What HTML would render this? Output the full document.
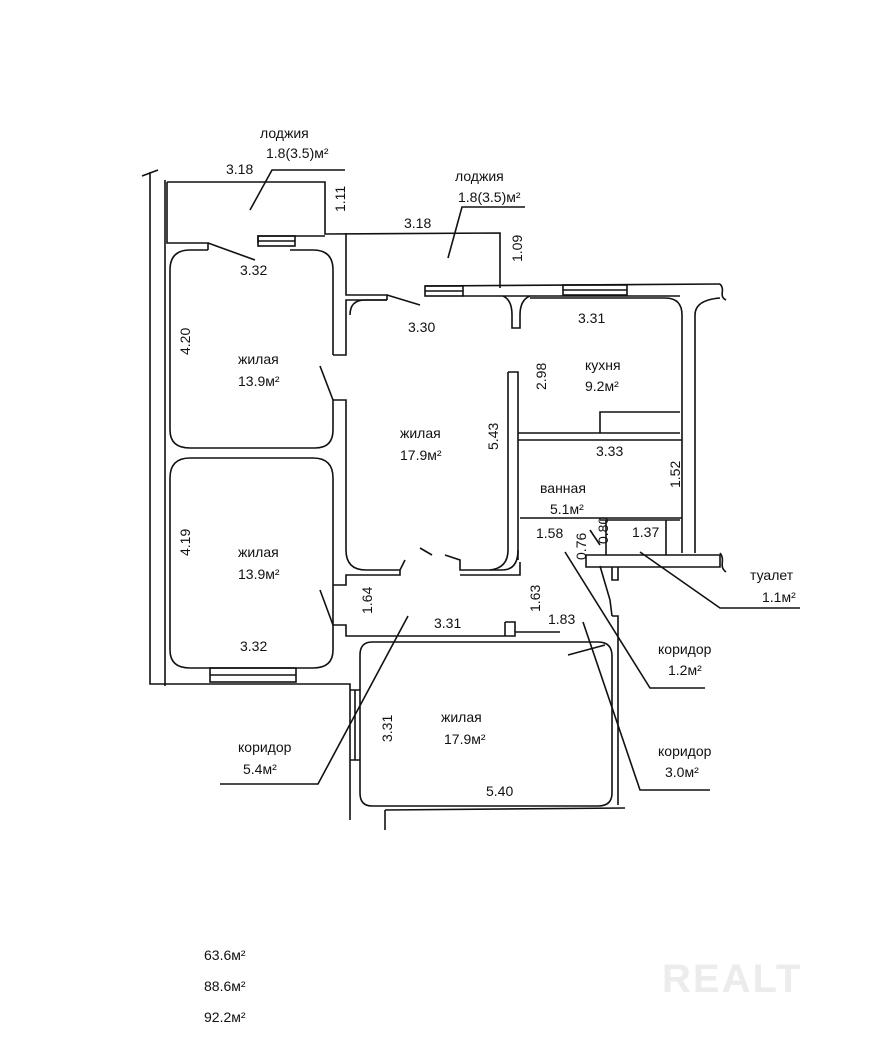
<!DOCTYPE html>
<html><head><meta charset="utf-8"><style>
html,body{margin:0;padding:0;background:#fff;}
svg{display:block}
text{font-family:"Liberation Sans",sans-serif;font-size:14px;fill:#111;}
</style></head><body>
<svg width="873" height="1044" viewBox="0 0 873 1044" xmlns="http://www.w3.org/2000/svg">
<g fill="none" stroke="#111" stroke-width="1.6">
<path d="M150 172 L150 684 L350 684 L350 820"/>
<path d="M142 176 L158 170"/>
<path d="M165 180 L165 686"/>
<path d="M167 182 L325 182 L325 234 L500 233 L500 288"/>
<path d="M167 182 L167 243 L208 243 L208 250"/>
<path d="M258 243 L258 236 L325 236"/>
<rect x="258" y="236" width="37" height="10"/>
<path d="M258 241 L295 241"/>
<path d="M346 233 L346 295 L387 295 L387 300"/>
<path d="M425 286 L720 284"/>
<rect x="425" y="286" width="38" height="10"/>
<path d="M425 291 L463 291"/>
<rect x="563" y="285" width="64" height="10"/>
<path d="M563 290 L627 290"/>
<path d="M463 296 L680 296"/>
<path d="M720 284 C726 290 718 296 726 300"/>
<path d="M720 553 C726 560 718 566 726 572"/>
<path d="M208 250 L190 250 Q170 250 170 270 L170 430 Q170 448 190 448 L315 448 Q333 448 333 430 L333 400"/>
<path d="M333 355 L333 270 Q333 250 313 250 L290 250"/>
<path d="M320 366 L333 400"/>
<path d="M333 355 L346 355 L346 300 Q346 300 350 300 L387 300"/>
<path d="M333 400 L346 400 L346 550 Q346 570 366 570 L400 570 L405 560"/>
<path d="M420 548 L432 555"/>
<path d="M445 555 L460 560 L460 570 L502 570 Q518 570 518 550"/>
<path d="M387 300 L365 300 Q350 300 350 315"/>
<path d="M400 570 L400 575 L346 575 L346 585 L333 585"/>
<path d="M460 575 L520 575 L520 562"/>
<path d="M508 372 L518 372 L518 560"/>
<path d="M508 372 L508 550 Q508 568 490 570"/>
<path d="M503 296 Q512 300 512 315 L512 328 L520 328 L520 315 Q520 300 530 296"/>
<path d="M530 298 L665 298 Q682 298 682 315 L682 553"/>
<path d="M695 553 L695 315 Q695 300 720 298"/>
<path d="M518 433 L680 433"/>
<path d="M518 440 L682 440"/>
<path d="M600 433 L600 412 L680 412"/>
<path d="M520 518 L682 518"/>
<path d="M600 520 L680 520"/>
<path d="M666 520 L666 555"/>
<path d="M606 520 L606 555"/>
<path d="M586 555 L720 555 L720 567 L586 567 Z"/>
<path d="M612 567 L612 580 L618 580 L618 567"/>
<path d="M333 585 L333 625 L346 625 L346 636 L515 636 L515 632 L560 632"/>
<path d="M505 622 L515 622 L515 632"/>
<path d="M505 622 L505 636"/>
<path d="M612 616 L618 616 L618 805"/>
<path d="M208 458 L190 458 Q170 458 170 478 L170 650 Q170 668 190 668 L313 668 Q333 668 333 650 L333 625"/>
<path d="M208 458 L313 458 Q333 458 333 478 L333 585"/>
<path d="M320 590 L333 625"/>
<rect x="210" y="668" width="86" height="14"/>
<path d="M210 675 L296 675"/>
<path d="M372 642 L598 642 Q612 642 612 656 L612 793 Q612 806 598 806 L372 806 Q360 806 360 793 L360 655 Q360 642 372 642"/>
<path d="M350 690 L360 690 M350 760 L360 760"/>
<path d="M355 690 L355 760"/>
<path d="M385 810 L625 808"/>
<path d="M385 810 L385 830"/>
<path d="M250 210 L272 170 L345 170"/>
<path d="M208 243 L255 260"/>
<path d="M448 258 L462 207 L525 207"/>
<path d="M387 295 L420 305"/>
<path d="M565 552 L650 688 L705 688"/>
<path d="M590 530 L600 545"/>
<path d="M640 552 L720 608 L800 608"/>
<path d="M600 566 L610 600 L612 616"/>
<path d="M583 622 L640 790 L710 790"/>
<path d="M568 655 L605 645"/>
<path d="M408 616 L318 784 L220 784"/>
</g>
<g>
<text x="260" y="138">лоджия</text>
<text x="266" y="158">1.8(3.5)м²</text>
<text x="226" y="174">3.18</text>
<text x="345" y="212" transform="rotate(-90 345 212)">1.11</text>
<text x="455" y="181">лоджия</text>
<text x="458" y="202">1.8(3.5)м²</text>
<text x="404" y="228">3.18</text>
<text x="522" y="262" transform="rotate(-90 522 262)">1.09</text>
<text x="240" y="275">3.32</text>
<text x="408" y="332">3.30</text>
<text x="578" y="323">3.31</text>
<text x="190" y="355" transform="rotate(-90 190 355)">4.20</text>
<text x="238" y="364">жилая</text>
<text x="238" y="386">13.9м²</text>
<text x="546" y="390" transform="rotate(-90 546 390)">2.98</text>
<text x="585" y="370">кухня</text>
<text x="585" y="391">9.2м²</text>
<text x="400" y="438">жилая</text>
<text x="400" y="460">17.9м²</text>
<text x="498" y="450" transform="rotate(-90 498 450)">5.43</text>
<text x="596" y="456">3.33</text>
<text x="680" y="488" transform="rotate(-90 680 488)">1.52</text>
<text x="540" y="493">ванная</text>
<text x="550" y="514">5.1м²</text>
<text x="536" y="538">1.58</text>
<text x="586" y="560" transform="rotate(-90 586 560)">0.76</text>
<text x="608" y="544" transform="rotate(-90 608 544)">0.80</text>
<text x="632" y="537">1.37</text>
<text x="190" y="556" transform="rotate(-90 190 556)">4.19</text>
<text x="238" y="557">жилая</text>
<text x="238" y="579">13.9м²</text>
<text x="750" y="580">туалет</text>
<text x="762" y="602">1.1м²</text>
<text x="372" y="614" transform="rotate(-90 372 614)">1.64</text>
<text x="540" y="612" transform="rotate(-90 540 612)">1.63</text>
<text x="548" y="624">1.83</text>
<text x="434" y="628">3.31</text>
<text x="240" y="651">3.32</text>
<text x="658" y="654">коридор</text>
<text x="668" y="675">1.2м²</text>
<text x="441" y="722">жилая</text>
<text x="444" y="744">17.9м²</text>
<text x="392" y="742" transform="rotate(-90 392 742)">3.31</text>
<text x="238" y="752">коридор</text>
<text x="243" y="774">5.4м²</text>
<text x="658" y="756">коридор</text>
<text x="665" y="777">3.0м²</text>
<text x="486" y="796">5.40</text>
<text x="204" y="960">63.6м²</text>
<text x="204" y="991">88.6м²</text>
<text x="204" y="1022">92.2м²</text>
<text x="662" y="992" style="font-size:40px;fill:#ececec;font-weight:bold;letter-spacing:2px">REALT</text>
</g>
</svg>
</body></html>
